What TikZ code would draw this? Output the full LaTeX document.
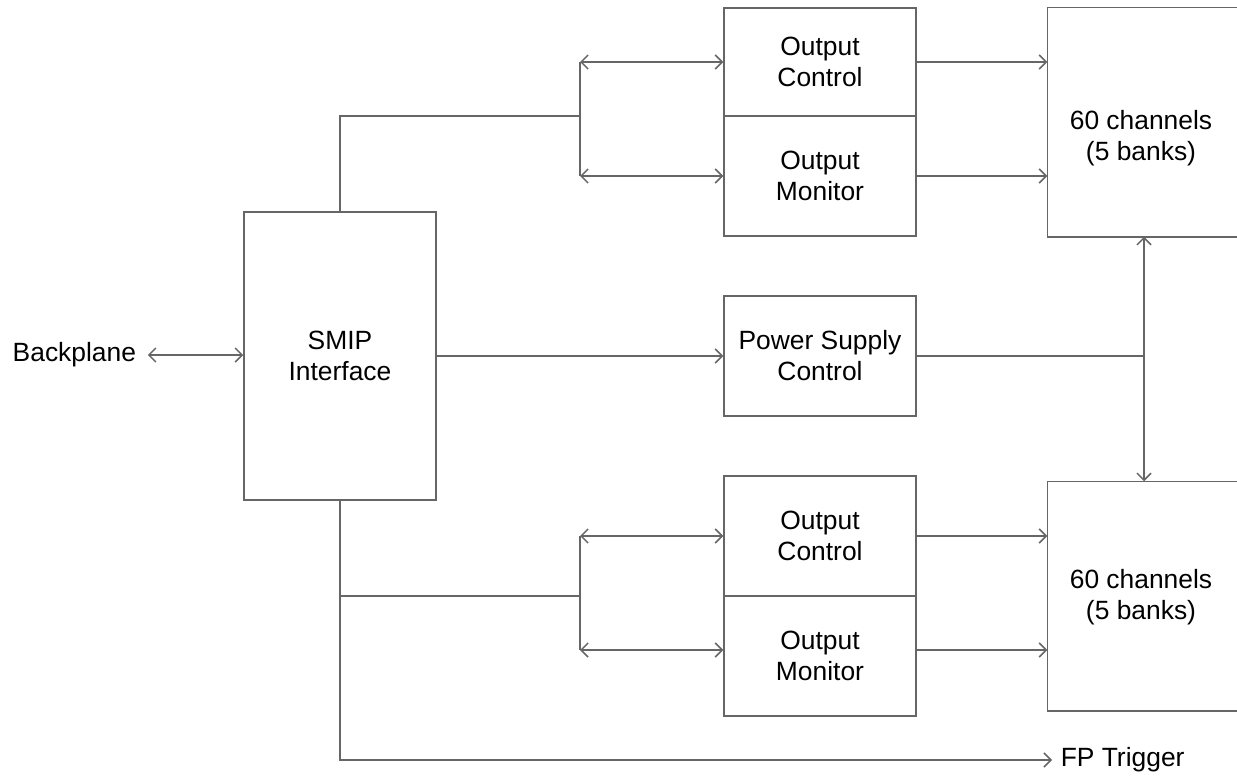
\documentclass[tikz,border=0pt]{standalone}
\usepackage{fontspec}
\setmainfont{Liberation Sans}
\usetikzlibrary{arrows.meta}
\begin{document}
\begin{tikzpicture}[x=0.5pt,y=-0.5pt,line width=0.75pt,draw=black!60,
  >={Straight Barb[length=3.5pt,width=7pt]},
  blk/.style={draw=black!60,align=center,inner sep=0pt,minimum width=96pt,
    font=\fontsize{13.2}{15.5}\selectfont},
  chan/.style={draw=none,inner sep=0pt,minimum width=94.5pt,minimum height=114pt},
  lbl/.style={inner sep=0pt,align=center,font=\fontsize{13.2}{15.5}\selectfont}]
\useasboundingbox (0,0) rectangle (1237,776);

% blocks
\node[blk,minimum height=144pt] (smip) at (340,356) {SMIP\\Interface};
\node[blk,minimum height=54pt] (octl1) at (820,62) {Output\\Control};
\node[blk,minimum height=60pt] (omon1) at (820,176) {Output\\Monitor};
\node[blk,minimum height=60pt] (psc) at (820,356) {Power Supply\\Control};
\node[blk,minimum height=60pt] (octl2) at (820,536) {Output\\Control};
\node[blk,minimum height=60pt] (omon2) at (820,656) {Output\\Monitor};

% channel banks, open to the right
\node[chan] (ch1) at (1142.5,122) {};
\node[chan] (ch2) at (1142.5,596) {};
\draw (ch1.north east) -- (ch1.north west) -- (ch1.south west) -- (ch1.south east);
\draw (ch2.north east) -- (ch2.north west) -- (ch2.south west) -- (ch2.south east);
\node[lbl] (ch1t) at (1141,138) {60 channels\\(5 banks)};
\node[lbl] (ch2t) at (1141,597) {60 channels\\(5 banks)};

\node[lbl,anchor=west] (bp) at (12,355) {Backplane};
\node[lbl,anchor=west] (fp) at (1060,760) {FP Trigger};

\coordinate (bus1) at (580,116);
\coordinate (bus2) at (580,596);
\coordinate (pj) at (1144,356);

\draw[<->] ([xshift=5.5pt]bp.east) -- (smip.west |- bp);

% upper bank
\draw (smip.north) |- (bus1);
\draw (bus1 |- octl1) -- (bus1 |- omon1);
\draw[<->] (bus1 |- octl1) -- (octl1.west);
\draw[<->] (bus1 |- omon1) -- (omon1.west);
\draw[->] (octl1.east) -- (ch1.west |- octl1);
\draw[->] (omon1.east) -- (ch1.west |- omon1);

% power supply
\draw[->] (smip.east) -- (psc.west);
\draw (psc.east) -- (pj);
\draw[<->] (pj |- ch1.south) -- (pj |- ch2.north);

% lower bank
\draw (smip.south) |- (bus2);
\draw (bus2 |- octl2) -- ([yshift=3pt]bus2 |- omon2);
\draw[<->] (bus2 |- octl2) -- (octl2.west);
\draw[<->] ([yshift=3pt]bus2 |- omon2) -- ([yshift=3pt]omon2.west);
\draw[->] (octl2.east) -- (ch2.west |- octl2);
\draw[->] ([yshift=3pt]omon2.east) -- ([yshift=3pt]ch2.west |- omon2);

\draw[->] (smip.south) |- ([xshift=-4pt]fp.west);
\end{tikzpicture}
\end{document}
